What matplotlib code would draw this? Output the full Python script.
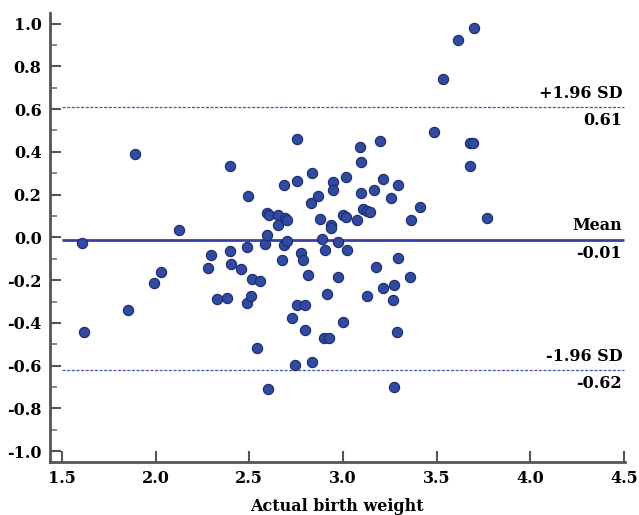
import numpy as np
import matplotlib.pyplot as plt

# =================================
# DATA (Bland-Altman)
# =================================

actual_weight = [
    1.605, 1.619, 1.888, 1.854, 2.125, 1.990, 2.029, 2.280, 2.296, 2.399,
    2.327, 2.379, 2.397, 2.404, 2.456, 2.495, 2.489, 2.489, 2.507, 2.513,
    2.557, 2.541, 2.585, 2.596, 2.596, 2.603, 2.598, 2.655, 2.655, 2.690,
    2.701, 2.673, 2.685, 2.700, 2.687, 2.726, 2.756, 2.756, 2.746, 2.774,
    2.788, 2.756, 2.797, 2.797, 2.813, 2.835, 2.835, 2.828, 2.865, 2.877,
    2.887, 2.904, 2.899, 2.927, 2.915, 2.936, 2.938, 2.949, 2.949, 2.974,
    2.974, 2.999, 2.999, 3.016, 3.018, 3.023, 3.077, 3.091, 3.095, 3.095,
    3.109, 3.130, 3.144, 3.127, 3.166, 3.178, 3.198, 3.215, 3.215, 3.255,
    3.274, 3.269, 3.273, 3.287, 3.292, 3.295, 3.358, 3.363, 3.410, 3.484,
    3.536, 3.614, 3.701, 3.678, 3.696, 3.678, 3.767,
]

difference = [
    -0.025, -0.442, 0.391, -0.338, 0.033, -0.213, -0.164, -0.145, -0.084, 0.333,
    -0.286, -0.284, -0.064, -0.123, -0.146, 0.195, -0.047, -0.305, -0.274, -0.196,
    -0.202, -0.517, -0.033, 0.009, 0.115, 0.103, -0.710, 0.107, 0.056, 0.092,
    0.081, -0.107, -0.036, -0.017, 0.245, -0.377, 0.462, 0.262, -0.595, -0.072,
    -0.106, -0.315, -0.315, -0.433, -0.176, 0.302, -0.583, 0.160, 0.195, 0.084,
    -0.006, -0.059, -0.472, -0.472, -0.263, 0.058, 0.042, 0.257, 0.223, -0.022,
    -0.187, 0.107, -0.394, 0.095, 0.283, -0.058, 0.081, 0.424, 0.352, 0.206,
    0.134, 0.123, 0.121, -0.274, 0.223, -0.137, 0.452, 0.273, -0.235, 0.184,
    -0.224, -0.293, -0.701, -0.442, -0.097, 0.245, -0.187, 0.081, 0.143, 0.492,
    0.743, 0.922, 0.978, 0.442, 0.442, 0.336, 0.093,
]

mean_diff = -0.01
upper_loa = 0.61
lower_loa = -0.62

x_ticks = [1.5, 2.0, 2.5, 3.0, 3.5, 4.0, 4.5]
y_ticks = [-1.0, -0.8, -0.6, -0.4, -0.2, 0.0, 0.2, 0.4, 0.6, 0.8, 1.0]

# =================================
# PLOT
# =================================

plt.rcParams["font.family"] = "DejaVu Serif"
plt.rcParams["font.weight"] = "bold"

fig = plt.figure(figsize=(6.39, 5.15), dpi=100)
ax = fig.add_axes([0.078, 0.103, 0.900, 0.872])

line_col = "#3a40a6"

ax.hlines(mean_diff, 1.5, 4.5, color=line_col, linewidth=2.0, zorder=1)
ax.hlines([upper_loa, lower_loa], 1.5, 4.5, color="#4a55bb",
          linewidth=0.9, linestyles=(0, (2.5, 1.2)), zorder=1)

ax.plot(actual_weight, difference, "o", markersize=7.4,
        markerfacecolor="#2f4a9f", markeredgecolor="#1f2a70",
        markeredgewidth=0.8, zorder=3)

# labels for the lines
tx = 4.49
fs = 11.5
ax.text(tx, upper_loa + 0.025, "+1.96 SD", ha="right", va="bottom", fontsize=fs, fontweight="bold")
ax.text(tx, upper_loa - 0.025, "%.2f" % upper_loa, ha="right", va="top", fontsize=fs, fontweight="bold")
ax.text(tx, mean_diff + 0.025, "Mean", ha="right", va="bottom", fontsize=fs, fontweight="bold")
ax.text(tx, mean_diff - 0.025, "%.2f" % mean_diff, ha="right", va="top", fontsize=fs, fontweight="bold")
ax.text(tx, lower_loa + 0.025, "-1.96 SD", ha="right", va="bottom", fontsize=fs, fontweight="bold")
ax.text(tx, lower_loa - 0.025, "%.2f" % lower_loa, ha="right", va="top", fontsize=fs, fontweight="bold")

ax.set_xlim(1.436, 4.505)
ax.set_ylim(-1.05, 1.05)

ax.set_xticks(x_ticks)
ax.set_xticklabels(["%.1f" % v for v in x_ticks])
ax.set_yticks(y_ticks)
ax.set_yticklabels(["%.1f" % v for v in y_ticks])
ax.set_yticks(np.arange(-0.9, 1.0, 0.2), minor=True)

ax.tick_params(axis="both", which="major", direction="in", length=8, width=1.5,
               color="#555555", labelsize=11.5, pad=6)
ax.tick_params(axis="y", which="minor", direction="in", length=5, width=1.2, color="#777777")

for lab in ax.get_xticklabels() + ax.get_yticklabels():
    lab.set_fontweight("bold")

ax.spines["top"].set_visible(False)
ax.spines["right"].set_visible(False)
ax.spines["left"].set_color("#555555")
ax.spines["bottom"].set_color("#555555")
ax.spines["left"].set_linewidth(2)
ax.spines["bottom"].set_linewidth(2)

ax.set_xlabel("Actual birth weight", fontsize=11.5, fontweight="bold", labelpad=8)

plt.savefig("out.png", dpi=100)
